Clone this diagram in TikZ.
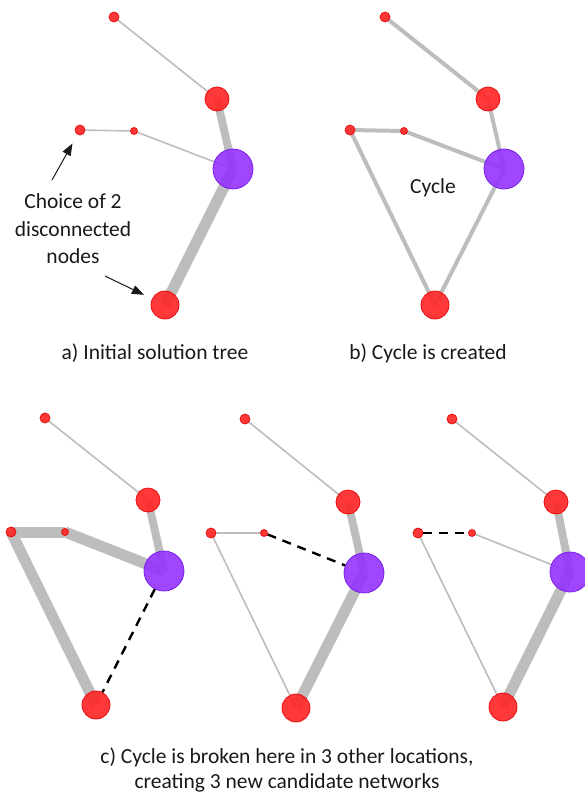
\documentclass[tikz,border=0pt]{standalone}
\usepackage{fontspec}
\setmainfont{Carlito}
\usetikzlibrary{arrows.meta}
\pgfdeclarelayer{background}
\pgfsetlayers{background,main}
\definecolor{nred}{HTML}{FF2424}
\definecolor{nredb}{HTML}{E81010}
\definecolor{npur}{HTML}{9333FF}
\definecolor{npurb}{HTML}{7A1FE8}
\definecolor{egray}{HTML}{BDBDBD}
\tikzset{
  rn/.style={circle, fill=nred, draw=nredb, line width=0.8pt, fill opacity=0.9, inner sep=0pt},
  pn/.style={circle, fill=npur, draw=npurb, line width=0.8pt, fill opacity=0.9, inner sep=0pt, minimum size=40pt},
  rtiny/.style={rn, minimum size=7pt},
  rsmall/.style={rn, minimum size=10pt},
  rmed/.style={rn, minimum size=24pt},
  rbig/.style={rn, minimum size=28pt},
  thinedge/.style={draw=egray, line width=1.6pt},
  midedge/.style={draw=egray, line width=4pt},
  thickedge/.style={draw=egray, line width=8pt},
  thickeredge/.style={draw=egray, line width=11pt},
  cut/.style={draw=black, line width=2.4pt, dash pattern=on 9pt off 7pt},
  lbl/.style={font=\fontsize{21.5}{26}\selectfont, text=black!90, align=center, inner sep=0pt},
  arr/.style={-{Triangle[length=12pt,width=9pt]}, line width=1pt, black!90}
}
\begin{document}
\begin{tikzpicture}[x=1pt,y=-1pt]
\useasboundingbox (0,0) rectangle (585,796);
% ---------------- panel a ----------------
\node[rsmall] (a1) at (114,17) {};
\node[rmed] (a2) at (217,99) {};
\node[rsmall] (a3) at (80,130) {};
\node[rtiny] (a4) at (134,131) {};
\node[pn] (a5) at (233,169) {};
\node[rbig] (a6) at (165,305) {};
% ---------------- panel b ----------------
\node[rsmall] (b1) at (385,17) {};
\node[rmed] (b2) at (488,99) {};
\node[rsmall] (b3) at (350,130) {};
\node[rtiny] (b4) at (404,131) {};
\node[pn] (b5) at (504,169) {};
\node[rbig] (b6) at (435,305) {};
% ---------------- panel c1 ----------------
\node[rsmall] (c1) at (45,418) {};
\node[rmed] (c2) at (148,500) {};
\node[rsmall] (c3) at (11,532) {};
\node[rtiny] (c4) at (65,532) {};
\node[pn] (c5) at (164,571) {};
\node[rbig] (c6) at (96,705) {};
% ---------------- panel c2 ----------------
\node[rsmall] (d1) at (245,419) {};
\node[rmed] (d2) at (348,502) {};
\node[rsmall] (d3) at (211,533) {};
\node[rtiny] (d4) at (264,533) {};
\node[pn] (d5) at (364,573) {};
\node[rbig] (d6) at (296,708) {};
% ---------------- panel c3 ----------------
\node[rsmall] (e1) at (452,419) {};
\node[rmed] (e2) at (556,502) {};
\node[rsmall] (e3) at (418,533) {};
\node[rtiny] (e4) at (472,533) {};
\node[pn] (e5) at (570,572) {};
\node[rbig] (e6) at (503,707) {};
% ---------------- edges ----------------
\begin{pgfonlayer}{background}
% a
\draw[thinedge] (a1.center) -- (a2.center);
\draw[thickedge] (a2.center) -- (a5.center);
\draw[thinedge] (a3.center) -- (a4.center);
\draw[thinedge] (a4.center) -- (a5.center);
\draw[thickeredge] (a5.center) -- (a6.center);
% b
\draw[midedge] (b1.center) -- (b2.center);
\draw[midedge] (b2.center) -- (b5.center);
\draw[midedge] (b3.center) -- (b4.center);
\draw[midedge] (b4.center) -- (b5.center);
\draw[midedge] (b5.center) -- (b6.center);
\draw[midedge] (b3.center) -- (b6.center);
% c1
\draw[thinedge] (c1.center) -- (c2.center);
\draw[thickedge] (c2.center) -- (c5.center);
\draw[thickeredge] (c3.center) -- (c4.center);
\draw[thickeredge] (c4.center) -- (c5.center);
\draw[thickeredge] (c3.center) -- (c6.center);
% c2
\draw[thinedge] (d1.center) -- (d2.center);
\draw[thickedge] (d2.center) -- (d5.center);
\draw[thickeredge] (d5.center) -- (d6.center);
\draw[thinedge] (d3.center) -- (d4.center);
\draw[thinedge] (d3.center) -- (d6.center);
% c3
\draw[thinedge] (e1.center) -- (e2.center);
\draw[thickedge] (e2.center) -- (e5.center);
\draw[thickeredge] (e5.center) -- (e6.center);
\draw[thinedge] (e4.center) -- (e5.center);
\draw[thinedge] (e3.center) -- (e6.center);
\end{pgfonlayer}
% ---------------- removed (dashed) edges ----------------
\draw[cut] (c5) -- (c6);
\draw[cut] (d4) -- (d5);
\draw[cut] (e3) -- (e4);
% ---------------- labels ----------------
\node[lbl, font=\fontsize{21.5}{27.5}\selectfont] (choice) at (73,229) {Choice of 2\\disconnected\\nodes};
\coordinate (ar1s) at (52,180);
\coordinate (ar2s) at (105,276);
\draw[arr, shorten >=10pt] (ar1s) -- (a3);
\draw[arr, shorten >=9pt] (ar2s) -- (a6);
\node[lbl] (cyc) at (433,188) {Cycle};
\node[lbl] (capa) at (155,353) {a) Initial solution tree};
\node[lbl] (capb) at (428,353) {b) Cycle is created};
\node[lbl, font=\fontsize{21.5}{24.5}\selectfont] (capc) at (287,770) {c) Cycle is broken here in 3 other locations,\\creating 3 new candidate networks};
\end{tikzpicture}
\end{document}
